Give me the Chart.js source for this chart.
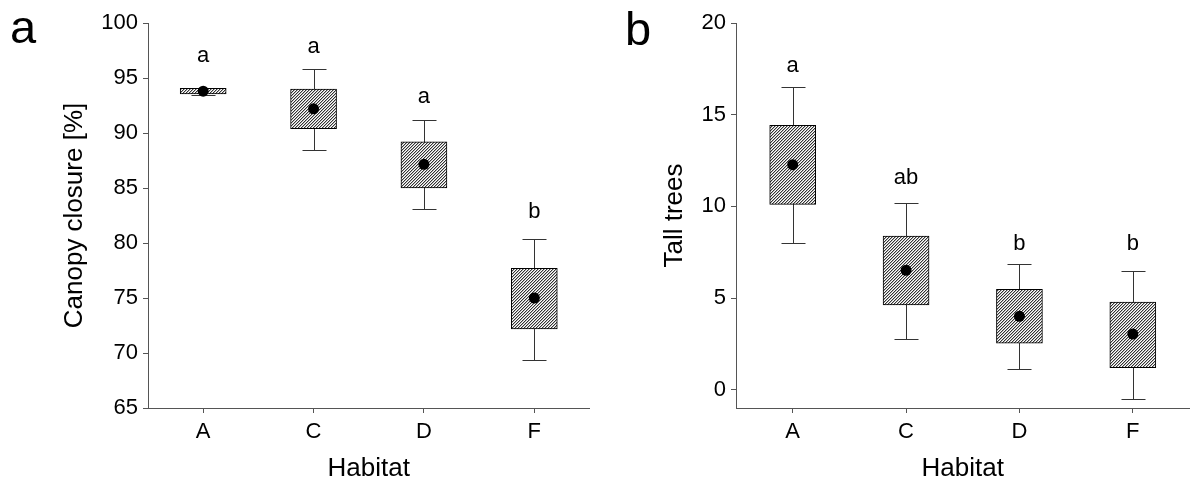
<!DOCTYPE html>
<html>
<head>
<meta charset="utf-8">
<script src="https://cdn.jsdelivr.net/npm/chart.js@4.4.0/dist/chart.umd.min.js"></script>
<style>
    html, body { margin: 0; padding: 0; background: #fff; overflow: hidden; }
    #wrap { position: relative; width: 1190px; height: 484px; overflow: hidden; }
    .panel { position: absolute; top: 0; }
    #panelA { left: 0; }
    #panelB { left: 595px; }
</style>
</head>
<body>
<div id="wrap">
    <div class="panel" id="panelA"><canvas id="chartA" width="595" height="484"></canvas></div>
    <div class="panel" id="panelB"><canvas id="chartB" width="600" height="484"></canvas></div>
</div>
<script>
const habitats = ['A', 'C', 'D', 'F'];

// a: canopy closure [%]
const canopyWhiskerLow = [93.45, 88.5, 83.05, 69.4];
const canopyBoxLow = [93.55, 90.4, 85.0, 72.2];
const canopyMean = [93.8, 92.2, 87.15, 75.0];
const canopyBoxHigh = [94.05, 94.0, 89.2, 77.7];
const canopyWhiskerHigh = [94.1, 95.8, 91.2, 80.4];
const canopyLetters = ['a', 'a', 'a', 'b'];
const canopyLetterY = [96.45, 97.25, 92.75, 82.25];
const canopyTicks = [65, 70, 75, 80, 85, 90, 95, 100];

// b: tall trees
const tallWhiskerLow = [8.0, 2.76, 1.12, -0.51];
const tallBoxLow = [10.11, 4.62, 2.54, 1.2];
const tallMean = [12.27, 6.51, 4.0, 3.03];
const tallBoxHigh = [14.42, 8.38, 5.47, 4.78];
const tallWhiskerHigh = [16.5, 10.2, 6.87, 6.49];
const tallLetters = ['a', 'ab', 'b', 'b'];
const tallLetterY = [17.33, 11.24, 7.64, 7.64];
const tallTicks = [0, 5, 10, 15, 20];

const FONT = "'Liberation Sans', Arial, sans-serif";
const AXIS_COLOR = '#555';

function makeHatch(ctx) {
    const tile = document.createElement('canvas');
    tile.width = 3;
    tile.height = 3;
    const g = tile.getContext('2d');
    const shades = ['#333333', '#b4b4b4', '#ffffff'];
    for (let x = 0; x < 3; x++) {
        for (let y = 0; y < 3; y++) {
            g.fillStyle = shades[(x + y + 1) % 3];
            g.fillRect(x, y, 1, 1);
        }
    }
    return ctx.createPattern(tile, 'repeat');
}

// whiskers behind the boxes, letters and panel label on top
const boxExtras = {
    id: 'boxExtras',
    beforeDatasetsDraw(chart, args, opts) {
        const { ctx, scales: { x, y } } = chart;
        ctx.save();
        ctx.strokeStyle = '#333';
        ctx.lineWidth = 1;
        opts.low.forEach((lo, i) => {
            const px = Math.round(x.getPixelForValue(i + 1)) + 0.5;
            const yl = Math.round(y.getPixelForValue(lo)) + 0.5;
            const yh = Math.round(y.getPixelForValue(opts.high[i])) + 0.5;
            ctx.beginPath();
            ctx.moveTo(px, yl);
            ctx.lineTo(px, yh);
            ctx.moveTo(px - 12, yl);
            ctx.lineTo(px + 12, yl);
            ctx.moveTo(px - 12, yh);
            ctx.lineTo(px + 12, yh);
            ctx.stroke();
        });
        ctx.restore();
    },
    afterDatasetsDraw(chart, args, opts) {
        const { ctx, scales: { x, y } } = chart;
        ctx.save();
        ctx.fillStyle = '#000';
        ctx.textAlign = 'center';
        ctx.textBaseline = 'alphabetic';
        ctx.font = '22px ' + FONT;
        opts.letters.forEach((t, i) => {
            ctx.fillText(t, x.getPixelForValue(i + 1), y.getPixelForValue(opts.letterY[i]));
        });
        ctx.textAlign = 'left';
        ctx.font = '47px ' + FONT;
        ctx.fillText(opts.label, opts.labelX, opts.labelY);
        ctx.restore();
    }
};

function buildChart(id, cfg) {
    const ctx = document.getElementById(id).getContext('2d');
    const hatch = makeHatch(ctx);

    return new Chart(ctx, {
        type: 'bar',
        data: {
            datasets: [
                {
                    type: 'scatter',
                    data: cfg.mean.map((v, i) => ({ x: i + 1, y: v })),
                    pointRadius: 5.5,
                    pointBorderWidth: 0,
                    pointBackgroundColor: '#000'
                },
                {
                    type: 'bar',
                    data: cfg.boxLow.map((v, i) => ({ x: i + 1, y: [v, cfg.boxHigh[i]] })),
                    backgroundColor: hatch,
                    borderColor: '#000',
                    borderWidth: 1,
                    borderSkipped: false,
                    barThickness: 46
                }
            ]
        },
        options: {
            responsive: false,
            animation: false,
            layout: { padding: { top: 23, right: cfg.padRight, left: 0, bottom: 0 } },
            scales: {
                x: {
                    type: 'linear',
                    min: 0.5,
                    max: 4.5,
                    offset: false,
                    afterBuildTicks: s => { s.ticks = habitats.map((h, i) => ({ value: i + 1 })); },
                    afterFit: s => { s.height = 76; },
                    ticks: {
                        autoSkip: false,
                        maxRotation: 0,
                        padding: 6,
                        color: '#000',
                        font: { family: FONT, size: 22 },
                        callback: v => habitats[v - 1]
                    },
                    grid: { offset: false, drawOnChartArea: false, tickLength: 5, color: AXIS_COLOR },
                    border: { color: AXIS_COLOR, width: 1 },
                    title: {
                        display: true,
                        text: 'Habitat',
                        color: '#000',
                        font: { family: FONT, size: 26 },
                        padding: { top: 0, bottom: 0 }
                    }
                },
                y: {
                    min: cfg.yMin,
                    max: cfg.yMax,
                    afterBuildTicks: s => { s.ticks = cfg.yTicks.map(v => ({ value: v })); },
                    afterFit: s => { s.width = cfg.axisWidth; },
                    ticks: {
                        padding: 5,
                        color: '#000',
                        font: { family: FONT, size: 22 }
                    },
                    grid: { drawOnChartArea: false, tickLength: 5, color: AXIS_COLOR },
                    border: { color: AXIS_COLOR, width: 1 },
                    title: {
                        display: true,
                        text: cfg.yTitle,
                        color: '#000',
                        font: { family: FONT, size: 26 },
                        padding: { top: cfg.titlePad, bottom: 0 }
                    }
                }
            },
            plugins: {
                legend: { display: false },
                tooltip: { enabled: false },
                boxExtras: {
                    low: cfg.whiskerLow,
                    high: cfg.whiskerHigh,
                    letters: cfg.letters,
                    letterY: cfg.letterY,
                    label: cfg.label,
                    labelX: cfg.labelX,
                    labelY: cfg.labelY
                }
            }
        },
        plugins: [boxExtras]
    });
}

buildChart('chartA', {
    mean: canopyMean,
    boxLow: canopyBoxLow,
    boxHigh: canopyBoxHigh,
    whiskerLow: canopyWhiskerLow,
    whiskerHigh: canopyWhiskerHigh,
    letters: canopyLetters,
    letterY: canopyLetterY,
    yTicks: canopyTicks,
    yMin: 65,
    yMax: 100,
    yTitle: 'Canopy closure [%]',
    axisWidth: 148,
    titlePad: 59,
    padRight: 3,
    label: 'a',
    labelX: 10,
    labelY: 43
});

buildChart('chartB', {
    mean: tallMean,
    boxLow: tallBoxLow,
    boxHigh: tallBoxHigh,
    whiskerLow: tallWhiskerLow,
    whiskerHigh: tallWhiskerHigh,
    letters: tallLetters,
    letterY: tallLetterY,
    yTicks: tallTicks,
    yMin: -1,
    yMax: 20,
    yTitle: 'Tall trees',
    axisWidth: 141,
    titlePad: 64,
    padRight: 1,
    label: 'b',
    labelX: 30,
    labelY: 45
});
</script>
</body>
</html>
